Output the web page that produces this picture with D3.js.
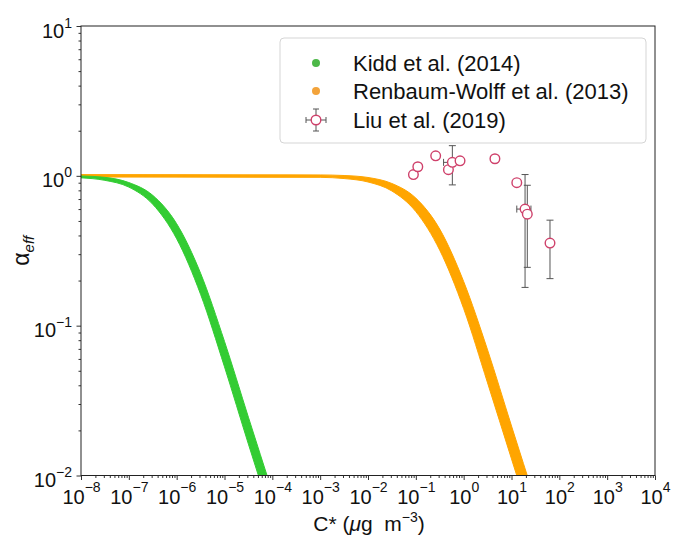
<!DOCTYPE html>
<html>
<head>
<meta charset="utf-8">
<script src="https://cdn.jsdelivr.net/npm/d3@7"></script>
<style>
body { margin: 0; background: #fff; }
text { font-family: "Liberation Sans", Arial, sans-serif; fill: #111; }
</style>
</head>
<body>
<script>
// Kidd et al. (2014): upper / lower edge of the scatter band
var kiddC  = [1e-8, 3.16e-8, 1e-7, 3.16e-7, 1e-6, 3.16e-6, 1e-5, 3.16e-5, 1e-4];
var kiddHi = [0.998, 0.977, 0.902, 0.741, 0.479, 0.224, 0.0785, 0.0245, 0.00776];
var kiddLo = [0.970, 0.933, 0.841, 0.646, 0.380, 0.162, 0.0531, 0.0162, 0.00513];

// Renbaum-Wolff et al. (2013)
var rwC  = [1e-8, 1e-3, 3.16e-3, 1e-2, 3.16e-2, 0.1, 0.316, 1, 3.16, 10, 31.6];
var rwHi = [1.019, 1.014, 1.005, 0.975, 0.889, 0.710, 0.441, 0.197, 0.0689, 0.0214, 0.00676];
var rwLo = [0.982, 0.977, 0.959, 0.910, 0.792, 0.577, 0.319, 0.130, 0.0415, 0.0129, 0.00407];

// Liu et al. (2019) measurements
var liuC    = [0.089, 0.11, 0.26, 0.48, 0.58, 0.84, 4.5, 12.9, 19.2, 21.4, 63.8];
var liuA    = [1.02, 1.15, 1.36, 1.10, 1.23, 1.26, 1.30, 0.90, 0.60, 0.555, 0.356];
var liuAerr = [0, 0, 0, 0, 0.36, 0, 0, 0, 0.42, 0.31, 0.15];
var liuCerr = [0, 0, 0, 0, 0.2, 0, 0, 0, 6.3, 0, 0];

var xExp = [-8, -7, -6, -5, -4, -3, -2, -1, 0, 1, 2, 3, 4];
var yExp = [-2, -1, 0, 1];

var legendLabels = ["Kidd et al. (2014)", "Renbaum-Wolff et al. (2013)", "Liu et al. (2019)"];

var margin = {top: 26, right: 18, bottom: 63.5, left: 81},
    width = 673 - margin.left - margin.right,
    height = 539 - margin.top - margin.bottom;

var x = d3.scaleLog().domain([1e-8, 1e4]).range([0, width]);
var y = d3.scaleLog().domain([1e-2, 1e1]).range([height, 0]);

var svg = d3.select("body").append("svg")
    .attr("width", 673)
    .attr("height", 539)
  .append("g")
    .attr("transform", "translate(" + margin.left + "," + margin.top + ")");

svg.append("clipPath").attr("id", "clip")
  .append("rect").attr("width", width).attr("height", height);

function band(c, hi, lo) {
  return c.map(function(d, i) { return {c: d, hi: hi[i], lo: lo[i]}; });
}

var area = d3.area()
    .x(function(d) { return x(d.c); })
    .y0(function(d) { return y(d.lo); })
    .y1(function(d) { return y(d.hi); })
    .curve(d3.curveMonotoneX);

var plot = svg.append("g").attr("clip-path", "url(#clip)");

plot.append("path")
    .datum(band(rwC, rwHi, rwLo))
    .attr("d", area)
    .style("fill", "#ffa500")
    .style("stroke", "#ffa500")
    .style("stroke-width", 1);

plot.append("path")
    .datum(band(kiddC, kiddHi, kiddLo))
    .attr("d", area)
    .style("fill", "#33cc33")
    .style("stroke", "#33cc33")
    .style("stroke-width", 1);

// error bars
var liu = liuC.map(function(d, i) {
  return {c: d, a: liuA[i], ae: liuAerr[i], ce: liuCerr[i]};
});
var cap = 3.5;
var eb = svg.append("g").style("stroke", "#555").style("stroke-width", 1);
liu.filter(function(d) { return d.ae > 0; }).forEach(function(d) {
  var cx = x(d.c), y1 = y(d.a + d.ae), y2 = y(d.a - d.ae);
  eb.append("line").attr("x1", cx).attr("x2", cx).attr("y1", y1).attr("y2", y2);
  eb.append("line").attr("x1", cx - cap).attr("x2", cx + cap).attr("y1", y1).attr("y2", y1);
  eb.append("line").attr("x1", cx - cap).attr("x2", cx + cap).attr("y1", y2).attr("y2", y2);
});
liu.filter(function(d) { return d.ce > 0; }).forEach(function(d) {
  var cy = y(d.a), x1 = x(d.c - d.ce), x2 = x(d.c + d.ce);
  eb.append("line").attr("x1", x1).attr("x2", x2).attr("y1", cy).attr("y2", cy);
  eb.append("line").attr("x1", x1).attr("x2", x1).attr("y1", cy - cap).attr("y2", cy + cap);
  eb.append("line").attr("x1", x2).attr("x2", x2).attr("y1", cy - cap).attr("y2", cy + cap);
});

svg.selectAll(".dot")
    .data(liu)
  .enter().append("circle")
    .attr("class", "dot")
    .attr("r", 4.8)
    .attr("cx", function(d) { return x(d.c); })
    .attr("cy", function(d) { return y(d.a); })
    .style("fill", "#fff")
    .style("stroke", "#cf416b")
    .style("stroke-width", 1.4);

// minor ticks
var xMinor = [], yMinor = [];
xExp.slice(0, -1).forEach(function(e) { for (var k = 2; k < 10; k++) xMinor.push(k * Math.pow(10, e)); });
yExp.slice(0, -1).forEach(function(e) { for (var k = 2; k < 10; k++) yMinor.push(k * Math.pow(10, e)); });

svg.append("g")
    .attr("transform", "translate(0," + height + ")")
    .call(d3.axisBottom(x).tickValues(xMinor).tickSize(2.5).tickFormat(""))
    .call(function(g) { g.select(".domain").remove(); });
svg.append("g")
    .call(d3.axisLeft(y).tickValues(yMinor).tickSize(2.5).tickFormat(""))
    .call(function(g) { g.select(".domain").remove(); });

var xAxis = svg.append("g")
    .attr("transform", "translate(0," + height + ")")
    .call(d3.axisBottom(x).tickValues(xExp.map(function(e) { return Math.pow(10, e); })).tickSize(4.5).tickFormat(""));
xAxis.select(".domain").remove();
xAxis.selectAll(".tick").data(xExp).append("text")
    .attr("y", 28)
    .style("text-anchor", "middle")
    .style("font-size", "20px")
    .each(function(e) {
      var t = d3.select(this);
      t.append("tspan").text("10");
      t.append("tspan").attr("dy", -12).style("font-size", "14px")
        .text(e < 0 ? "\u2212" + (-e) : e);
    });

var yAxis = svg.append("g")
    .call(d3.axisLeft(y).tickValues(yExp.map(function(e) { return Math.pow(10, e); })).tickSize(4.5).tickFormat(""));
yAxis.select(".domain").remove();
yAxis.selectAll(".tick").data(yExp).append("text")
    .attr("x", -9)
    .attr("y", 11)
    .style("text-anchor", "end")
    .style("font-size", "20px")
    .each(function(e) {
      var t = d3.select(this);
      t.append("tspan").text("10");
      t.append("tspan").attr("dy", -10).style("font-size", "14px")
        .text(e < 0 ? "\u2212" + (-e) : e);
    });
svg.selectAll(".tick line").style("stroke", "#333");

// frame
svg.append("rect")
    .attr("width", width)
    .attr("height", height)
    .style("fill", "none")
    .style("stroke", "#222")
    .style("stroke-width", 1);

// axis labels
var xl = svg.append("text")
    .attr("x", width / 2 + 1)
    .attr("y", height + 55)
    .style("text-anchor", "middle")
    .style("font-size", "21px");
xl.append("tspan").text("C* (");
xl.append("tspan").style("font-style", "italic").text("\u03bc");
xl.append("tspan").text("g\u00a0\u00a0m");
xl.append("tspan").attr("dy", -9).style("font-size", "14px").text("\u22123");
xl.append("tspan").attr("dy", 9).text(")");

var yl = svg.append("text")
    .attr("transform", "translate(-52," + (height / 2 + 0) + ") rotate(-90)")
    .style("text-anchor", "middle")
    .style("font-size", "23px");
yl.append("tspan").text("\u03b1");
yl.append("tspan").attr("dy", 5).style("font-size", "15px").style("font-style", "italic").text("eff");

// legend
var lg = svg.append("g").attr("transform", "translate(" + (280 - margin.left) + "," + (38 - margin.top) + ")");
lg.append("rect")
    .attr("width", 366)
    .attr("height", 105)
    .attr("rx", 4)
    .style("fill", "#fff")
    .style("fill-opacity", 0.8)
    .style("stroke", "#d5d5d5");

var rowY = [25, 53, 82];
var legendColors = ["#4cb848", "#f3a33a"];
var item = lg.selectAll(".legend")
    .data(legendLabels)
  .enter().append("g")
    .attr("class", "legend")
    .attr("transform", function(d, i) { return "translate(0," + rowY[i] + ")"; });

item.append("text")
    .attr("x", 73)
    .attr("y", 8)
    .style("font-size", "22px")
    .text(function(d) { return d; });

item.filter(function(d, i) { return i < 2; }).append("circle")
    .attr("cx", 36)
    .attr("r", 4)
    .style("fill", function(d, i) { return legendColors[i]; });

var lm = lg.append("g").attr("transform", "translate(36," + rowY[2] + ")")
    .style("stroke", "#555").style("stroke-width", 1);
lm.append("line").attr("x1", -10).attr("x2", 10);
lm.append("line").attr("x1", -10).attr("x2", -10).attr("y1", -3).attr("y2", 3);
lm.append("line").attr("x1", 10).attr("x2", 10).attr("y1", -3).attr("y2", 3);
lm.append("line").attr("y1", -11).attr("y2", 11);
lm.append("line").attr("x1", -3).attr("x2", 3).attr("y1", -11).attr("y2", -11);
lm.append("line").attr("x1", -3).attr("x2", 3).attr("y1", 11).attr("y2", 11);
lm.append("circle").attr("r", 4.8)
    .style("fill", "#fff").style("stroke", "#cf416b").style("stroke-width", 1.4);
</script>
</body>
</html>
